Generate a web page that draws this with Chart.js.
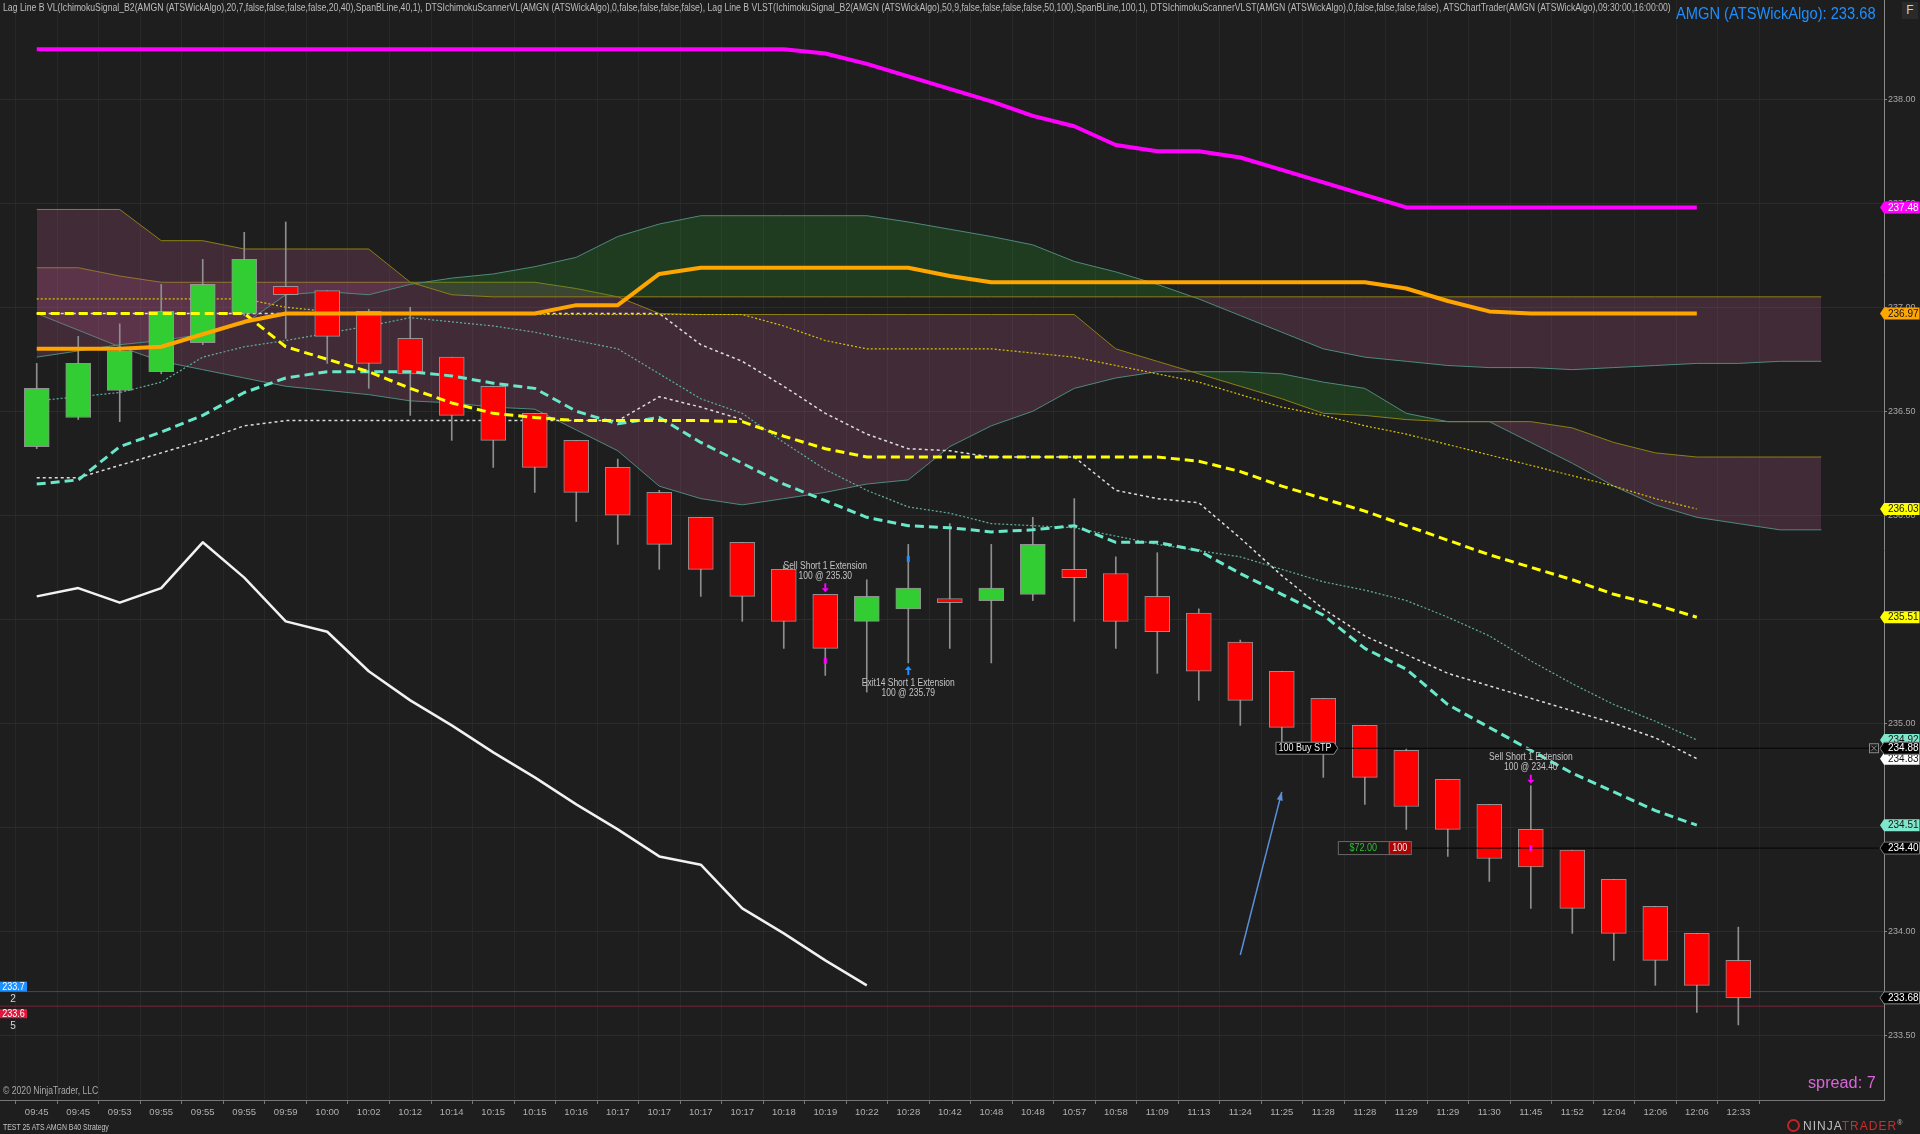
<!DOCTYPE html>
<html lang="en">
<head>
<meta charset="UTF-8" />
<title>AMGN (ATSWickAlgo) - chart</title>
<script src="https://cdn.jsdelivr.net/npm/chart.js@4.4.1/dist/chart.umd.min.js"></script>
<style>
  html, body { margin: 0; padding: 0; background: #1e1e1e; overflow: hidden; }
  #wrap { position: relative; width: 1920px; height: 1134px; background: #1e1e1e; font-family: 'Liberation Sans', Arial, sans-serif; }
  #chart { position: absolute; left: 0; top: 0; }
  .txt { position: absolute; white-space: nowrap; transform-origin: left top; }
  #title { left: 3px; top: 2px; font-size: 10px; color: #bcbcbc; }
  #symbol { left: 1676px; top: 5px; font-size: 16px; color: #1e8fff; }
  #fbox { left: 1902px; top: 2px; width: 16px; height: 17px; background: #2a2a2a; color: #cfcfcf; font-size: 12px; text-align: center; line-height: 17px; }
  #spread { left: 1808px; top: 1074px; font-size: 16px; color: #d966d9; }
  #copy { left: 3px; top: 1085px; font-size: 10px; color: #a9a9a9; }
  #strategy { left: 3px; top: 1122px; font-size: 9px; color: #c4c4c4; }
  #logo { left: 1787px; top: 1119px; font-size: 12px; letter-spacing: 1px; color: #bdbdbd; }
  #logo .ring { display: inline-block; width: 9px; height: 9px; border: 2px solid #c02525; border-radius: 50%; vertical-align: -2px; margin-right: 3px; }
  #logo .red { color: #cf2c2c; }
</style>
</head>
<body>
<div id="wrap">
  <canvas id="chart" width="1920" height="1134"></canvas>
  <div class="txt" id="title">Lag Line B VL(IchimokuSignal_B2(AMGN (ATSWickAlgo),20,7,false,false,false,false,20,40),SpanBLine,40,1), DTSIchimokuScannerVL(AMGN (ATSWickAlgo),0,false,false,false,false), Lag Line B VLST(IchimokuSignal_B2(AMGN (ATSWickAlgo),50,9,false,false,false,false,50,100),SpanBLine,100,1), DTSIchimokuScannerVLST(AMGN (ATSWickAlgo),0,false,false,false,false), ATSChartTrader(AMGN (ATSWickAlgo),09:30:00,16:00:00)</div>
  <div class="txt" id="symbol">AMGN (ATSWickAlgo): 233.68</div>
  <div class="txt" id="fbox">F</div>
  <div class="txt" id="spread">spread: 7</div>
  <div class="txt" id="copy">© 2020 NinjaTrader, LLC</div>
  <div class="txt" id="strategy">TEST 25 ATS AMGN B40 Strategy</div>
  <div class="txt" id="logo"><span class="ring"></span>NINJA<span class="red">TRADER</span><sup style="font-size:7px">®</sup></div>
</div>
<script>
// ---- bars ----
const times = ['09:45','09:45','09:53','09:55','09:55','09:55','09:59','10:00','10:02','10:12','10:14','10:15','10:15','10:16','10:17','10:17','10:17','10:17','10:18','10:19','10:22','10:28','10:42','10:48','10:48','10:57','10:58','11:09','11:13','11:24','11:25','11:28','11:28','11:29','11:29','11:30','11:45','11:52','12:04','12:06','12:06','12:33'];
const opens  = [236.33,236.47,236.60,236.69,236.83,236.97,237.10,237.08,236.98,236.85,236.76,236.62,236.49,236.36,236.23,236.11,235.99,235.87,235.74,235.62,235.49,235.55,235.60,235.59,235.62,235.74,235.72,235.61,235.53,235.39,235.25,235.12,234.99,234.87,234.73,234.61,234.49,234.39,234.25,234.12,233.99,233.86];
const highs  = [236.73,236.86,236.92,237.11,237.23,237.36,237.41,237.08,236.99,237.00,236.76,236.62,236.49,236.36,236.27,236.12,235.99,235.87,235.76,235.62,235.69,235.86,235.96,235.86,235.99,236.08,235.80,235.82,235.55,235.40,235.25,235.12,234.99,234.88,234.73,234.61,234.70,234.39,234.25,234.12,233.99,234.02];
const lows   = [236.32,236.46,236.45,236.68,236.82,236.96,236.85,236.73,236.61,236.48,236.36,236.23,236.11,235.97,235.86,235.74,235.61,235.49,235.36,235.23,235.15,235.29,235.36,235.29,235.59,235.49,235.36,235.24,235.11,234.99,234.89,234.74,234.61,234.49,234.36,234.24,234.11,233.99,233.86,233.74,233.61,233.55];
const closes = [236.61,236.73,236.79,236.98,237.11,237.23,237.06,236.86,236.73,236.68,236.48,236.36,236.23,236.11,236.00,235.86,235.74,235.61,235.49,235.36,235.61,235.65,235.58,235.65,235.86,235.70,235.49,235.44,235.25,235.11,234.98,234.90,234.74,234.60,234.49,234.35,234.31,234.11,233.99,233.86,233.74,233.68];

// ---- indicator lines (one value per bar from bar 0) ----
const magentaLine = [238.24,238.24,238.24,238.24,238.24,238.24,238.24,238.24,238.24,238.24,238.24,238.24,238.24,238.24,238.24,238.24,238.24,238.24,238.24,238.22,238.17,238.11,238.05,237.99,237.92,237.87,237.78,237.75,237.75,237.72,237.66,237.60,237.54,237.48,237.48,237.48,237.48,237.48,237.48,237.48,237.48];
const orangeLine  = [236.80,236.80,236.80,236.81,236.87,236.93,236.97,236.97,236.97,236.97,236.97,236.97,236.97,237.01,237.01,237.16,237.19,237.19,237.19,237.19,237.19,237.19,237.15,237.12,237.12,237.12,237.12,237.12,237.12,237.12,237.12,237.12,237.12,237.09,237.03,236.98,236.97,236.97,236.97,236.97,236.97];
const yellowDash  = [236.97,236.97,236.97,236.97,236.97,236.97,236.81,236.75,236.69,236.61,236.54,236.49,236.47,236.455,236.455,236.455,236.455,236.45,236.38,236.32,236.28,236.28,236.28,236.28,236.28,236.28,236.28,236.28,236.26,236.21,236.14,236.08,236.02,235.95,235.88,235.81,235.75,235.69,235.62,235.57,235.51];
const aquaDash    = [236.15,236.17,236.33,236.40,236.48,236.59,236.66,236.69,236.69,236.69,236.67,236.635,236.61,236.50,236.44,236.47,236.35,236.25,236.15,236.07,235.99,235.95,235.94,235.92,235.93,235.95,235.87,235.87,235.83,235.72,235.62,235.52,235.36,235.26,235.09,234.98,234.87,234.76,234.67,234.58,234.51];
const whiteDashA  = [236.97,236.97,236.97,236.97,236.97,236.97,236.97,236.97,236.97,236.97,236.97,236.97,236.97,236.97,236.97,236.97,236.82,236.74,236.62,236.49,236.39,236.32,236.31,236.28,236.28,236.28,236.12,236.08,236.06,235.89,235.71,235.55,235.42,235.33,235.24,235.18,235.12,235.06,235.00,234.93,234.83];
const whiteDashB  = [236.18,236.18,236.24,236.30,236.36,236.43,236.455,236.455,236.455,236.455,236.455,236.455,236.455,236.455,236.455,236.57,236.52,236.46];
const tealDot     = [236.55,236.57,236.59,236.64,236.76,236.81,236.84,236.875,236.91,236.95,236.93,236.91,236.88,236.84,236.80,236.68,236.56,236.49,236.35,236.22,236.12,236.04,236.01,235.96,235.95,235.94,235.90,235.86,235.83,235.80,235.74,235.68,235.64,235.59,235.51,235.42,235.30,235.19,235.09,235.01,234.92];
const yellowDot   = [237.04,237.04,237.04,237.04,237.04,237.04,237.00,236.98,236.965,236.965,236.965,236.965,236.965,236.965,236.965,236.965,236.965,236.965,236.91,236.84,236.80,236.80,236.80,236.80,236.78,236.76,236.72,236.68,236.64,236.58,236.52,236.48,236.43,236.39,236.34,236.29,236.24,236.19,236.14,236.08,236.03];
const lagLine     = [235.61,235.65,235.58,235.65,235.87,235.70,235.49,235.44,235.25,235.11,234.99,234.86,234.74,234.61,234.49,234.36,234.32,234.11,233.99,233.86,233.74];

// ---- ichimoku clouds (projected to bar 43) ----
const spanA_VL   = [236.76,236.79,236.82,236.84,236.87,236.92,237.06,237.075,237.06,237.11,237.14,237.16,237.195,237.24,237.34,237.40,237.44,237.44,237.44,237.44,237.44,237.41,237.375,237.34,237.30,237.22,237.17,237.11,237.04,236.96,236.88,236.80,236.76,236.74,236.72,236.71,236.71,236.70,236.71,236.72,236.73,236.73,236.74,236.74];
const spanB_VL   = [237.47,237.47,237.47,237.32,237.32,237.28,237.28,237.28,237.28,237.12,237.06,237.05,237.05,237.05,237.05,237.05,237.05,237.05,237.05,237.05,237.05,237.05,237.05,237.05,237.05,237.05,237.05,237.05,237.05,237.05,237.05,237.05,237.05,237.05,237.05,237.05,237.05,237.05,237.05,237.05,237.05,237.05,237.05,237.05];
const spanA_VLST = [236.97,236.89,236.81,236.74,236.70,236.66,236.62,236.60,236.58,236.55,236.54,236.52,236.51,236.41,236.31,236.14,236.08,236.05,236.08,236.11,236.15,236.17,236.33,236.43,236.50,236.61,236.66,236.69,236.69,236.69,236.68,236.64,236.61,236.49,236.45,236.45,236.35,236.25,236.14,236.05,235.99,235.96,235.93,235.93];
const spanB_VLST = [237.19,237.19,237.15,237.12,237.12,237.12,237.12,237.12,237.12,237.12,237.12,237.12,237.12,237.09,237.05,236.97,236.965,236.965,236.965,236.965,236.965,236.965,236.965,236.965,236.965,236.965,236.80,236.74,236.68,236.62,236.56,236.49,236.48,236.46,236.45,236.45,236.45,236.42,236.35,236.30,236.28,236.28,236.28,236.28];

// ---- market / orders / drawings ----
const askPrice = 233.71, bidPrice = 233.64, askSize = 2, bidSize = 5;
const stopPrice = 234.88, limitPrice = 234.40;
const drawArrowX = [29.0, 30.0];
const drawArrowY = [233.886, 234.67];
const trades = [
  { bar: 19, price: 235.30, side: 'sell', lines: ['Sell Short 1 Extension', '100 @ 235.30'] },
  { bar: 21, price: 235.79, side: 'exit', lines: ['Exit14 Short 1 Extension', '100 @ 235.79'] },
  { bar: 36, price: 234.40, side: 'sell', lines: ['Sell Short 1 Extension', '100 @ 234.40'] }
];
const yTicks = [233.5, 234.0, 234.5, 235.0, 235.5, 236.0, 236.5, 237.0, 237.5, 238.0];

const XMIN = -0.885, XMAX = 44.51, YMIN = 233.189, YMAX = 238.477;

const PURPLE = 'rgba(170,85,130,0.25)';
const GREEN = 'rgba(40,150,40,0.25)';
const OLIVE = 'rgb(140,128,22)';
const TEAL = 'rgb(78,138,124)';

const pts = (arr, start = 0) => arr.map((v, k) => ({ x: start + k, y: v }));
const hline = (v) => [{ x: XMIN, y: v }, { x: XMAX, y: v }];
const last = (arr) => arr[arr.length - 1];

function line(label, data, color, width, order, extra) {
  return Object.assign({ type: 'line', label, data, borderColor: color, borderWidth: width, pointRadius: 0, fill: false, order }, extra || {});
}

const datasets = [
  line('Span A VL', pts(spanA_VL), TEAL, 1, 21, { fill: { target: '+1', above: GREEN, below: PURPLE } }),
  line('Span B VL', pts(spanB_VL), OLIVE, 1, 20),
  line('Span A VLST', pts(spanA_VLST), TEAL, 1, 23, { fill: { target: '+1', above: GREEN, below: PURPLE } }),
  line('Span B VLST', pts(spanB_VLST), OLIVE, 1, 22),
  line('Ask', hline(askPrice), '#2c4f78', 1, 30),
  line('Bid', hline(bidPrice), '#72283a', 1, 30),
  line('Teal dot', pts(tealDot), 'rgb(96,176,156)', 1.2, 12, { borderDash: [2, 2] }),
  line('Yellow dot', pts(yellowDot), 'rgb(214,196,0)', 1.2, 13, { borderDash: [2, 2] }),
  line('White dash A', pts(whiteDashA), '#dcdcdc', 1.5, 14, { borderDash: [3, 3] }),
  line('White dash B', pts(whiteDashB), '#dcdcdc', 1.5, 15, { borderDash: [3, 3] }),
  {
    type: 'bar', label: 'Wicks', order: 11, grouped: false, barThickness: 1,
    data: highs.map((h, i) => ({ x: i, y: [lows[i], h] })),
    backgroundColor: '#8e8e8e'
  },
  {
    type: 'bar', label: 'Bodies', order: 10, grouped: false, barThickness: 25,
    data: opens.map((o, i) => ({ x: i, y: [o, closes[i]] })),
    backgroundColor: opens.map((o, i) => closes[i] >= o ? '#32cd32' : '#ff0000'),
    borderColor: 'rgba(165,165,165,0.85)', borderWidth: 1, borderSkipped: false
  },
  line('Lag line', pts(lagLine), '#f2f2f2', 2.5, 5),
  line('Aqua', pts(aquaDash), 'rgb(104,232,200)', 3, 4, { borderDash: [9, 5] }),
  line('Yellow', pts(yellowDash), '#ffff00', 3, 3, { borderDash: [9, 5] }),
  line('Orange', pts(orangeLine), '#ffa500', 4, 2),
  line('Magenta', pts(magentaLine), '#ff00ff', 4, 1),
  line('Stop', [{ x: 31.35, y: stopPrice }, { x: XMAX, y: stopPrice }], '#050505', 1, 0),
  line('Limit', [{ x: 33.11, y: limitPrice }, { x: XMAX, y: limitPrice }], '#050505', 1, 0),
  line('Drawn arrow', drawArrowX.map((x, k) => ({ x, y: drawArrowY[k] })), '#5b8fd9', 1.5, 0)
];

const flags = [
  { v: last(magentaLine), bg: '#ff00ff', fg: '#ffffff' },
  { v: last(orangeLine), bg: '#ffa500', fg: '#151515' },
  { v: last(yellowDot), bg: '#ffff00', fg: '#151515' },
  { v: last(yellowDash), bg: '#ffff00', fg: '#151515' },
  { v: last(tealDot), bg: '#7fe8cc', fg: '#151515' },
  { v: last(whiteDashA), bg: '#ffffff', fg: '#151515' },
  { v: stopPrice, bg: '#000000', fg: '#ffffff', bd: '#7a7a7a' },
  { v: last(aquaDash), bg: '#7fe8cc', fg: '#151515' },
  { v: limitPrice, bg: '#000000', fg: '#ffffff', bd: '#7a7a7a' },
  { v: last(closes), bg: '#000000', fg: '#ffffff', bd: '#8a8a8a' }
];

function arrow(ctx, px, tailY, headY, color) {
  const dir = headY > tailY ? 1 : -1;
  ctx.strokeStyle = color; ctx.fillStyle = color; ctx.lineWidth = 2;
  ctx.beginPath(); ctx.moveTo(px, tailY); ctx.lineTo(px, headY - dir * 4); ctx.stroke();
  ctx.beginPath();
  ctx.moveTo(px - 3.5, headY - dir * 4); ctx.lineTo(px + 3.5, headY - dir * 4); ctx.lineTo(px, headY);
  ctx.closePath(); ctx.fill();
}

function squeeze(ctx, text, x, y, k) {
  ctx.fillText(text, x, y, ctx.measureText(text).width * k);
}

const overlay = {
  id: 'overlay',
  afterDatasetsDraw(chart) {
    const { ctx } = chart;
    const xs = chart.scales.x, ys = chart.scales.y;
    ctx.save();
    ctx.font = '10px "Liberation Sans", Arial, sans-serif';
    ctx.textAlign = 'center';
    ctx.textBaseline = 'middle';

    // trade markers
    trades.forEach(t => {
      const px = xs.getPixelForValue(t.bar);
      const col = t.side === 'sell' ? '#ff00ff' : '#1e90ff';
      ctx.fillStyle = col;
      ctx.fillRect(px - 1.5, ys.getPixelForValue(t.price) - 3, 3, 6);
      let y1, y2;
      if (t.side === 'sell') {
        const top = ys.getPixelForValue(highs[t.bar]) - 11;
        arrow(ctx, px, top, top + 9, col);
        y2 = top - 7; y1 = y2 - 10;
      } else {
        const top = ys.getPixelForValue(lows[t.bar]) + 3;
        arrow(ctx, px, top + 9, top, col);
        y1 = top + 17; y2 = y1 + 10;
      }
      ctx.fillStyle = '#c4c4c4';
      squeeze(ctx, t.lines[0], px, y1, 0.85);
      squeeze(ctx, t.lines[1], px, y2, 0.85);
    });

    // arrowhead of the drawn line
    const ax0 = xs.getPixelForValue(drawArrowX[0]), ay0 = ys.getPixelForValue(drawArrowY[0]);
    const ax1 = xs.getPixelForValue(drawArrowX[1]), ay1 = ys.getPixelForValue(drawArrowY[1]);
    const ang = Math.atan2(ay1 - ay0, ax1 - ax0);
    ctx.fillStyle = '#5b8fd9';
    ctx.beginPath();
    ctx.moveTo(ax1, ay1);
    ctx.lineTo(ax1 - 9 * Math.cos(ang - 0.35), ay1 - 9 * Math.sin(ang - 0.35));
    ctx.lineTo(ax1 - 9 * Math.cos(ang + 0.35), ay1 - 9 * Math.sin(ang + 0.35));
    ctx.closePath(); ctx.fill();

    // stop order label
    const sy = ys.getPixelForValue(stopPrice);
    const sl = xs.getPixelForValue(29.86), sr = xs.getPixelForValue(31.35);
    ctx.beginPath();
    ctx.moveTo(sl, sy - 6); ctx.lineTo(sr - 4, sy - 6); ctx.lineTo(sr, sy); ctx.lineTo(sr - 4, sy + 6); ctx.lineTo(sl, sy + 6); ctx.closePath();
    ctx.fillStyle = '#000'; ctx.fill();
    ctx.strokeStyle = '#8a8a8a'; ctx.lineWidth = 1; ctx.stroke();
    ctx.fillStyle = '#f0f0f0';
    squeeze(ctx, '100 Buy STP', (sl + sr - 4) / 2, sy + 0.5, 0.9);

    // position / PnL box
    const py = ys.getPixelForValue(limitPrice);
    const pl = xs.getPixelForValue(31.35), pm = pl + 51, pr = pm + 22;
    ctx.fillStyle = '#1b1b1b'; ctx.fillRect(pl, py - 7, pm - pl, 14);
    ctx.strokeStyle = '#6a6a6a'; ctx.strokeRect(pl + 0.5, py - 6.5, pm - pl, 13);
    ctx.fillStyle = '#b00000'; ctx.fillRect(pm, py - 7, pr - pm, 14);
    ctx.strokeRect(pm + 0.5, py - 6.5, pr - pm, 13);
    ctx.fillStyle = '#2ec12e';
    squeeze(ctx, '$72.00', (pl + pm) / 2, py + 0.5, 0.9);
    ctx.fillStyle = '#f0f0f0';
    squeeze(ctx, '100', (pm + pr) / 2, py + 0.5, 0.9);

    // bid / ask boxes at the left
    const askY = ys.getPixelForValue(askPrice), bidY = ys.getPixelForValue(bidPrice);
    ctx.fillStyle = '#1e8fff'; ctx.fillRect(0, askY - 10, 27, 10);
    ctx.fillStyle = '#e0163c'; ctx.fillRect(0, bidY + 3, 27, 9);
    ctx.fillStyle = '#ffffff';
    squeeze(ctx, askPrice.toFixed(1), 13.5, askY - 4.5, 0.9);
    squeeze(ctx, bidPrice.toFixed(1), 13.5, bidY + 8, 0.9);
    ctx.fillStyle = '#dadada';
    ctx.fillText(String(askSize), 13, askY + 8);
    ctx.fillText(String(bidSize), 13, bidY + 20);
    ctx.restore();
  },
  afterDraw(chart) {
    const { ctx, chartArea } = chart;
    const ys = chart.scales.y;
    const right = chartArea.right;
    ctx.save();
    ctx.font = '10px "Liberation Sans", Arial, sans-serif';
    ctx.textAlign = 'left';
    ctx.textBaseline = 'middle';
    flags.forEach(f => {
      const py = ys.getPixelForValue(f.v);
      ctx.beginPath();
      ctx.moveTo(right - 4, py); ctx.lineTo(right, py - 6); ctx.lineTo(1919.5, py - 6); ctx.lineTo(1919.5, py + 6); ctx.lineTo(right, py + 6); ctx.closePath();
      ctx.fillStyle = f.bg; ctx.fill();
      if (f.bd) { ctx.strokeStyle = f.bd; ctx.lineWidth = 1; ctx.stroke(); }
      ctx.fillStyle = f.fg;
      ctx.fillText(f.v.toFixed(2), right + 4, py + 0.5);
    });
    // close-order button beside the stop
    const sy = ys.getPixelForValue(stopPrice);
    ctx.strokeStyle = '#8a8a8a'; ctx.lineWidth = 1;
    ctx.strokeRect(right - 14.5, sy - 4.5, 9, 9);
    ctx.beginPath();
    ctx.moveTo(right - 12.5, sy - 2.5); ctx.lineTo(right - 7.5, sy + 2.5);
    ctx.moveTo(right - 7.5, sy - 2.5); ctx.lineTo(right - 12.5, sy + 2.5);
    ctx.stroke();
    ctx.restore();
  }
};

new Chart(document.getElementById('chart'), {
  type: 'line',
  data: { datasets },
  plugins: [overlay],
  options: {
    responsive: false,
    devicePixelRatio: 1,
    animation: false,
    events: [],
    layout: { padding: 0 },
    elements: { point: { radius: 0 }, line: { tension: 0, borderJoinStyle: 'round' } },
    plugins: { legend: { display: false }, tooltip: { enabled: false } },
    scales: {
      x: {
        type: 'linear', min: XMIN, max: XMAX, offset: false,
        afterBuildTicks: (s) => { s.ticks = times.map((t, i) => ({ value: i })); },
        afterFit: (s) => { s.height = 34; s.paddingLeft = 0; s.paddingRight = 0; },
        ticks: {
          autoSkip: false, maxRotation: 0, padding: 3, color: '#b0b0b0',
          font: { family: 'Liberation Sans', size: 9.5 },
          callback: (v) => times[v] ?? ''
        },
        grid: { color: '#282828', tickColor: '#777777', tickLength: 4 },
        border: { color: '#777777' }
      },
      y: {
        type: 'linear', position: 'right', min: YMIN, max: YMAX,
        afterBuildTicks: (s) => { s.ticks = yTicks.map(v => ({ value: v })); },
        afterFit: (s) => { s.width = 36; s.paddingTop = 0; s.paddingBottom = 0; },
        ticks: {
          padding: 1, color: '#a8a8a8',
          font: { family: 'Liberation Sans', size: 9 },
          callback: (v) => Number(v).toFixed(2)
        },
        grid: { color: '#2b2b2b', tickColor: '#888888', tickLength: 3 },
        border: { color: '#8a8a8a' }
      }
    }
  }
});

// fit the condensed header/footer texts to their widths
function fitWidth(id, w) {
  const el = document.getElementById(id);
  el.style.transform = 'scaleX(' + (w / el.offsetWidth) + ')';
}
fitWidth('title', 1668);
fitWidth('symbol', 200);
fitWidth('copy', 95);
fitWidth('strategy', 106);
fitWidth('spread', 68);
</script>
</body>
</html>
